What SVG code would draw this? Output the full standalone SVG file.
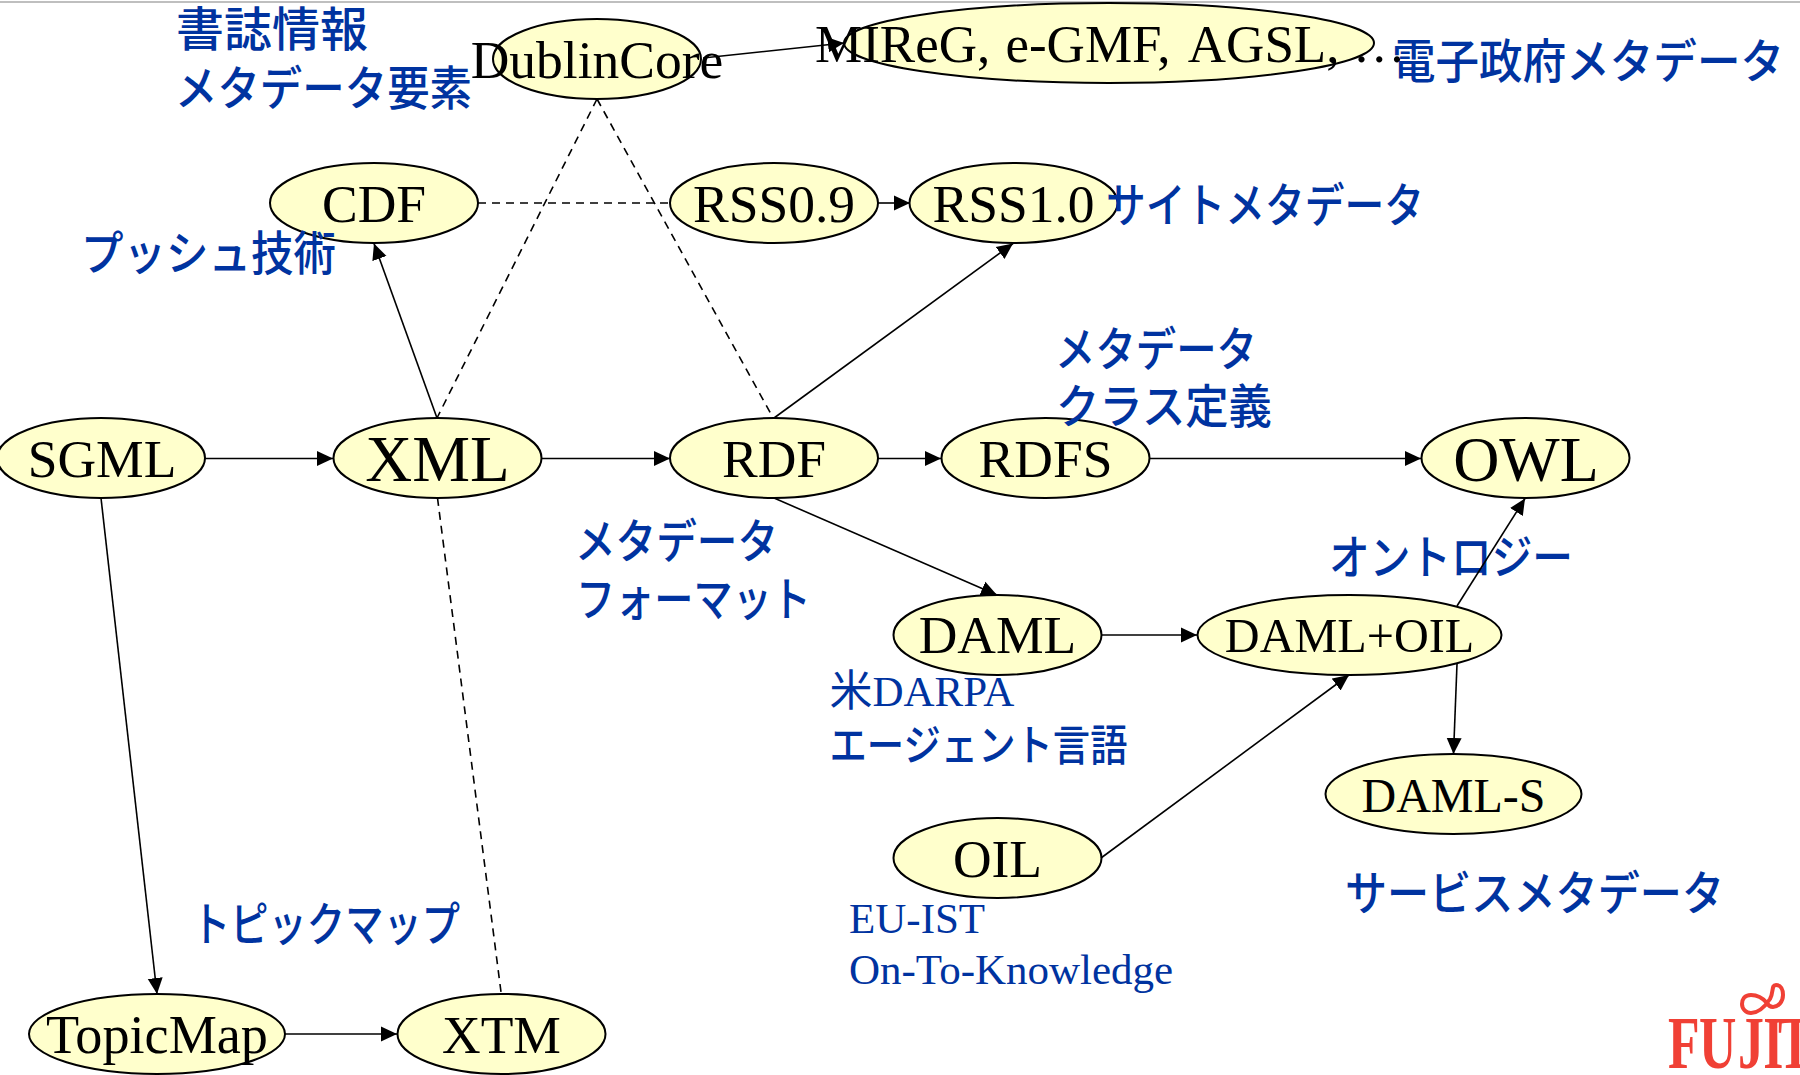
<svg xmlns="http://www.w3.org/2000/svg" width="1800" height="1075" viewBox="0 0 1800 1075">
<style>
.n ellipse{fill:#ffffcc;stroke:#000;stroke-width:2}
.n text{font-family:"Liberation Serif","Noto Sans CJK JP",serif;font-size:53.5px;fill:#000;text-anchor:middle}
.l text{font-family:"Noto Sans CJK JP","Noto Sans",sans-serif;font-size:47px;font-weight:500;fill:#0033a0}
.l text.s{font-family:"Liberation Serif","Noto Sans CJK JP",serif;font-size:43px;font-weight:400}
.c line{stroke:#000;stroke-width:1.6;fill:none}
.c line.a{marker-end:url(#ah)}
.c line.d{stroke-dasharray:8 6}
.logo{fill:#f04035}
</style>
<defs>
<marker id="ah" markerUnits="userSpaceOnUse" markerWidth="18" markerHeight="16" refX="16" refY="8" orient="auto"><path d="M0 0.5L16 8L0 15.5Z" fill="#000"/></marker>
</defs>
<rect width="1800" height="1075" fill="#fff"/>
<line x1="0" y1="2" x2="1800" y2="2" stroke="#aaa" stroke-width="1.5"/>
<g id="nodes" class="n">
<g id="dublincore"><ellipse cx="597" cy="59" rx="104" ry="40"/><text x="597" y="78">DublinCore</text></g>
<g id="mireg"><ellipse cx="1109" cy="43" rx="265" ry="40"/><text x="815" y="62" style="font-size:53px;text-anchor:start">MIReG, <tspan dx="2">e-GMF,</tspan> <tspan dx="7">AGSL,</tspan> …</text></g>
<g id="cdf"><ellipse cx="374" cy="203" rx="104" ry="40"/><text x="374" y="222">CDF</text></g>
<g id="rss09"><ellipse cx="774" cy="203" rx="104" ry="40"/><text x="774" y="222">RSS0.9</text></g>
<g id="rss10"><ellipse cx="1013.500" cy="203" rx="104" ry="40"/><text x="1013.500" y="222">RSS1.0</text></g>
<g id="sgml"><ellipse cx="101" cy="458" rx="104" ry="40"/><text x="102" y="477">SGML</text></g>
<g id="xml"><ellipse cx="437.500" cy="458" rx="104" ry="40"/><text x="437.500" y="481" style="font-size:65px">XML</text></g>
<g id="rdf"><ellipse cx="774" cy="458" rx="104" ry="40"/><text x="774" y="477">RDF</text></g>
<g id="rdfs"><ellipse cx="1045.500" cy="458" rx="104" ry="40"/><text x="1045.500" y="477">RDFS</text></g>
<g id="owl"><ellipse cx="1525.500" cy="458" rx="104" ry="40"/><text x="1526" y="481" style="font-size:64px">OWL</text></g>
<g id="daml"><ellipse cx="997.500" cy="635" rx="104" ry="40"/><text x="997.500" y="653">DAML</text></g>
<g id="damloil"><ellipse cx="1349.500" cy="635" rx="152" ry="40"/><text x="1349.500" y="652" style="font-size:48.200px">DAML+OIL</text></g>
<g id="damls"><ellipse cx="1453.500" cy="794" rx="128" ry="40"/><text x="1453.500" y="812" style="font-size:48px">DAML-S</text></g>
<g id="oil"><ellipse cx="997.500" cy="858" rx="104" ry="40"/><text x="997.500" y="877">OIL</text></g>
<g id="topicmap"><ellipse cx="157" cy="1034" rx="128" ry="40"/><text x="157" y="1053" style="font-size:54.200px">TopicMap</text></g>
<g id="xtm"><ellipse cx="501.500" cy="1034" rx="104" ry="40"/><text x="501.500" y="1053">XTM</text></g>
</g>
<g id="labels" class="l">
<text x="176" y="46" textLength="192" lengthAdjust="spacingAndGlyphs">書誌情報</text>
<text x="175" y="105" textLength="297" lengthAdjust="spacingAndGlyphs">メタデータ要素</text>
<text x="81" y="270" textLength="255" lengthAdjust="spacingAndGlyphs">プッシュ技術</text>
<text x="1392" y="78" textLength="392" lengthAdjust="spacingAndGlyphs">電子政府メタデータ</text>
<text x="1106" y="222" textLength="318" lengthAdjust="spacingAndGlyphs">サイトメタデータ</text>
<text x="1055" y="366" textLength="202" lengthAdjust="spacingAndGlyphs">メタデータ</text>
<text x="1056" y="423" textLength="216" lengthAdjust="spacingAndGlyphs">クラス定義</text>
<text x="575" y="558" textLength="203" lengthAdjust="spacingAndGlyphs">メタデータ</text>
<text x="576" y="616" textLength="235" lengthAdjust="spacingAndGlyphs">フォーマット</text>
<text class="s" x="829.500" y="706">米DARPA</text>
<text x="829.500" y="761" textLength="298" lengthAdjust="spacingAndGlyphs" style="font-size:43px">エージェント言語</text>
<text class="s" x="849" y="933">EU-IST</text>
<text class="s" x="849" y="984">On-To-Knowledge</text>
<text x="192" y="941" textLength="268" lengthAdjust="spacingAndGlyphs">トピックマップ</text>
<text x="1329" y="574" textLength="244" lengthAdjust="spacingAndGlyphs">オントロジー</text>
<text x="1345" y="910" textLength="379" lengthAdjust="spacingAndGlyphs">サービスメタデータ</text>
</g>
<g id="connectors" class="c">
<line class="a" x1="703" y1="58" x2="844" y2="43"/>
<line class="d" x1="597" y1="99" x2="437" y2="418"/>
<line class="d" x1="597" y1="99" x2="771" y2="414"/>
<line class="d" x1="478" y1="203" x2="670" y2="203"/>
<line class="a" x1="878" y1="203" x2="910" y2="203"/>
<line class="a" x1="437" y1="418" x2="374" y2="243.500"/>
<line class="a" x1="774" y1="418" x2="1013" y2="243.500"/>
<line class="a" x1="205" y1="458.500" x2="333" y2="458.500"/>
<line class="a" x1="541.500" y1="458.500" x2="670" y2="458.500"/>
<line class="a" x1="878" y1="458.500" x2="941" y2="458.500"/>
<line class="a" x1="1149.500" y1="458.500" x2="1421" y2="458.500"/>
<line class="a" x1="101" y1="498" x2="157" y2="994"/>
<line class="d" x1="437.500" y1="498" x2="501" y2="992"/>
<line class="a" x1="285" y1="1034" x2="397" y2="1034"/>
<line class="a" x1="774" y1="498" x2="997" y2="595"/>
<line class="a" x1="1101" y1="635" x2="1197" y2="635"/>
<line class="a" x1="1101" y1="858" x2="1349" y2="675"/>
<line class="a" x1="1457" y1="606" x2="1525" y2="498.500"/>
<line class="a" x1="1457" y1="664" x2="1453.500" y2="754"/>
</g>
<g id="logo">
<text class="logo" transform="translate(0,1068) scale(.7,1)" x="2383 2427 2483 2519 2540" y="0" style="font-family:'Liberation Serif',serif;font-size:74px;font-weight:bold">FUJIT</text>
<path d="M1767 1003C1761 996 1756 995 1751 995C1744 995 1742 1000 1742 1004C1742 1009 1746 1013 1751 1013C1758 1013 1764 1008 1770 999C1774 992 1771 985 1776 985C1781 985 1783 990 1783 995C1783 1002 1778 1007 1773 1007C1770 1007 1768 1005 1767 1003Z" fill="none" stroke="#f04035" stroke-width="4"/>
</g>
</svg>
